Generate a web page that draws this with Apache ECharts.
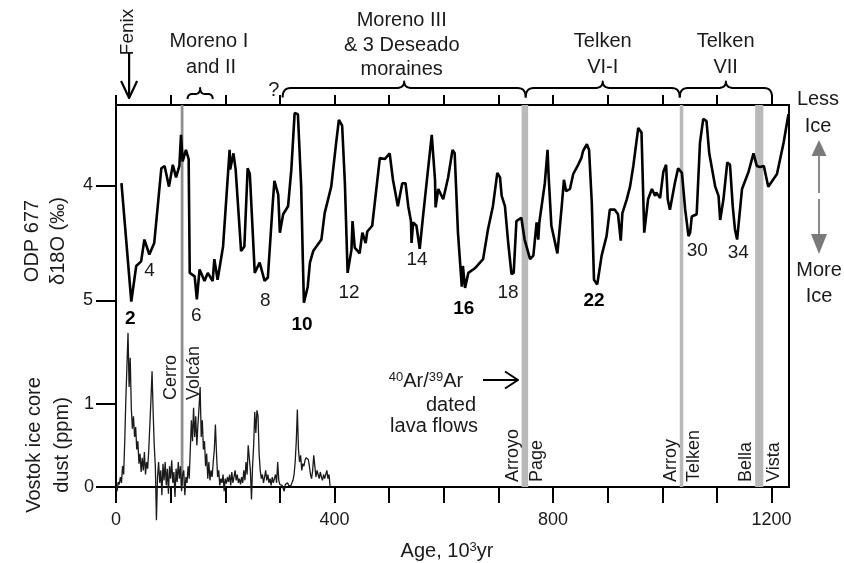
<!DOCTYPE html>
<html><head><meta charset="utf-8">
<script src="https://cdn.jsdelivr.net/npm/echarts@6/dist/echarts.min.js"></script>
<style>html,body{margin:0;padding:0;background:#fff}#c{width:844px;height:563px}</style>
</head><body><div id="c"></div>
<script>
const FONT = '"Liberation Sans", Arial, Helvetica, sans-serif';
const INK = '#1a1a1a';

// ---- ODP 677 δ18O (ka, ‰) ----
const o18Age = [10,28,37,46,52,61,70,83,89,97,104,110,116,119,122,128,133,135,144,148,153,162,168,177,180,186,196,208,209,215,219,229,235,241,245,254,263,272,278,287,290,297,300,306,315,321,327,333,339,342,344,351,355,361,376,382,394,403,408,414,419,424,431,433,437,446,451,457,460,469,483,492,501,507,516,524,530,535,540,541,544,550,556,562,578,584,585,590,599,608,616,620,626,633,635,639,645,657,672,681,690,698,703,706,712,718,724,728,733,742,748,758,764,770,773,775,785,790,792,797,808,816,820,824,831,837,846,852,855,862,866,871,875,881,889,898,904,913,919,924,927,935,941,947,956,962,967,969,974,981,987,989,996,1002,1007,1010,1014,1023,1029,1036,1042,1048,1051,1054,1063,1069,1075,1081,1086,1097,1103,1106,1112,1119,1124,1129,1133,1137,1146,1158,1167,1173,1179,1186,1194,1210,1222,1231];
const o18Val = [3.98,5.01,4.70,4.66,4.47,4.60,4.50,3.85,3.83,4.01,3.82,3.93,3.83,3.56,3.79,3.69,3.77,4.76,4.79,4.99,4.73,4.83,4.76,4.83,4.64,4.82,4.53,3.69,3.86,3.72,3.86,4.57,4.53,3.85,3.90,4.76,4.67,4.83,4.80,4.15,3.96,4.08,4.41,4.25,4.18,3.86,3.37,3.38,4.01,4.64,5.02,4.88,4.67,4.57,4.47,4.24,4.01,3.63,3.43,3.48,3.98,4.76,4.56,4.31,4.54,4.59,4.41,4.50,4.40,4.35,3.76,3.77,3.72,3.95,4.18,3.98,3.98,4.18,4.31,4.50,4.32,4.35,4.55,4.27,3.56,3.95,4.19,4.03,4.12,3.93,3.69,3.72,4.41,4.88,4.70,4.89,4.76,4.72,4.64,4.38,4.18,3.89,3.93,4.09,4.18,4.50,4.77,4.76,4.31,4.28,4.47,4.64,4.61,4.32,4.47,4.32,3.98,3.69,3.92,4.35,4.59,4.18,3.95,4.05,4.03,3.90,3.82,3.76,3.70,3.64,3.69,4.15,4.82,4.86,4.61,4.44,4.21,4.21,4.25,4.48,4.24,4.12,4.01,3.83,3.50,3.54,4.41,4.40,4.12,4.03,4.09,4.06,4.11,3.88,3.82,4.12,4.21,3.98,3.85,3.89,4.21,4.44,4.41,4.27,4.25,3.63,3.42,3.44,3.72,4.01,4.09,4.30,4.12,3.80,3.82,4.18,4.38,4.47,4.03,3.88,3.72,3.83,3.84,3.83,4.01,3.90,3.63,3.38];

// ---- Vostok dust (ppm), sampled every dustStep ka from 0 ----
const dustStep = 2;
const dustPpm = [
0.02,-0.05,0.06,0.03,0.12,0.05,0.25,0.15,0.55,1.05,
1.45,1.85,1.2,1.55,0.95,0.7,0.85,0.6,0.72,0.45,
0.55,0.28,0.4,0.18,0.35,0.2,0.42,0.15,0.3,0.22,
0.45,0.75,1.05,1.39,0.9,0.5,0.25,-0.4,0.12,0.3,
0.05,0.2,-0.1,0.28,0.08,0.3,0.02,0.22,-0.08,0.25,
0.1,0.32,0.05,0.18,-0.12,0.22,0.06,0.3,0.1,0.25,
-0.05,0.15,0.2,-0.1,0.12,0.05,0.25,0.1,0.45,0.8,
0.55,0.95,0.6,0.85,0.5,0.75,0.95,1.2,0.6,0.8,
0.45,0.55,0.25,0.4,0.1,0.3,0.08,0.2,0.12,0.3,
0.45,0.75,0.4,0.12,0.2,0.02,0.1,0.05,0.15,-0.05,
0.1,0.04,0.12,0.06,0.15,0.02,0.18,0.05,0.12,0.2,
0.08,0.15,0.05,0.1,0.03,0.12,0.05,0.2,0.08,0.3,
0.15,0.5,0.35,0.2,-0.15,0.25,0.5,0.9,0.65,0.92,
0.85,0.4,0.2,0.1,0.15,0.05,0.12,0.2,0.08,0.15,
0.05,0.1,0.02,0.12,0.05,0.1,0.15,0.05,0.3,0.08,
0.03,0.05,0.02,0.04,-0.05,0.03,0.02,0.05,0.02,0.04,
0.01,0.05,0.08,0.15,0.3,0.55,0.93,0.45,0.3,0.38,
0.2,0.28,0.25,0.32,0.35,0.36,0.33,0.25,0.15,0.1,
0.2,0.38,0.25,0.12,0.2,0.15,0.1,0.18,0.12,0.08,
0.15,0.1,0.12,0.2,0.1,0.15,0.0];

// ---- axes ----
const xMax = 1232;
const xTicks = [0,100,200,300,400,500,600,700,800,900,1000,1100,1200];
const xLabels = [0,400,800,1200];
const o18Ticks = [4,5];
const dustTicks = [0,1];

// ---- dated lava flows (ka) ----
const lavaFrom = [118.5, 742.5, 1032, 1170];
const lavaTo   = [123.5, 754.5, 1038.5, 1185];
const lavaShade = ['#8e8e8e','#b9b9b9','#b9b9b9','#b9b9b9'];
const lavaText = ['Cerro','Volcán','Arroyo','Page','Arroy','Telken','Bella','Vista'];
const lavaTextAge = [100, 142, 726.5, 771, 1016, 1058, 1152.5, 1204.5];
const lavaTextBase = [400, 400, 482, 482, 482, 482, 482, 482];

// ---- marine isotope stages ----
const misText = ['2','4','6','8','10','12','14','16','18','22','30','34'];
const misAge  = [26.2,61.4,147,273.4,340.4,426.5,551,636.7,717.8,875,1064,1139];
const misVal  = [5.155,4.74,5.13,5.0,5.207,4.937,4.642,5.068,4.932,5.004,4.567,4.581];
const misBold = [true,false,false,false,true,false,false,true,false,true,false,false];

// ---- moraine braces (ka) ----
const braceFrom = [131, 305, 750, 1032];
const braceTo   = [177, 750, 1032, 1201];

const chart = echarts.init(document.getElementById('c'));
const axisLineStyle = {color:'#000', width:2};
chart.setOption({
  animation:false,
  grid:{left:116,right:55,top:105,bottom:76,show:true,borderColor:'#000',borderWidth:2,backgroundColor:'transparent'},
  xAxis:[
    {type:'value',min:0,max:xMax,position:'bottom',
     axisLine:{onZero:false,lineStyle:axisLineStyle},
     axisTick:{customValues:xTicks,length:16,lineStyle:axisLineStyle},
     axisLabel:{customValues:xLabels,margin:24,fontSize:18,color:INK,fontFamily:FONT,formatter:v=>String(v)},
     splitLine:{show:false}},
    {type:'value',min:0,max:xMax,position:'top',
     axisLine:{onZero:false,lineStyle:axisLineStyle},
     axisTick:{customValues:xTicks,length:10,lineStyle:axisLineStyle},
     axisLabel:{show:false},splitLine:{show:false}}
  ],
  yAxis:[
    {type:'value',inverse:true,min:3.3,max:3.3+382/115,position:'left',
     axisLine:{onZero:false,lineStyle:axisLineStyle},
     axisTick:{customValues:o18Ticks,length:20,lineStyle:axisLineStyle},
     axisLabel:{customValues:o18Ticks,margin:23,fontSize:18,color:INK,fontFamily:FONT},
     splitLine:{show:false}},
    {type:'value',min:0,max:382/83.3,position:'left',
     axisLine:{onZero:false,lineStyle:axisLineStyle},
     axisTick:{customValues:dustTicks,length:20,lineStyle:axisLineStyle},
     axisLabel:{customValues:dustTicks,margin:22,fontSize:18,color:INK,fontFamily:FONT},
     splitLine:{show:false}}
  ],
  series:[
    {type:'custom',xAxisIndex:0,yAxisIndex:1,silent:true,z:1,
     data: lavaFrom.map((f,i)=>[f,lavaTo[i],i]),
     encode:{x:[0,1]},
     renderItem:function(params,api){
       const x1 = api.coord([api.value(0),0])[0];
       const x2 = api.coord([api.value(1),0])[0];
       const cs = params.coordSys;
       return {type:'rect',shape:{x:x1,y:cs.y,width:x2-x1,height:cs.height},
               style:{fill:lavaShade[api.value(2)]}};
     }},
    {type:'line',xAxisIndex:0,yAxisIndex:1,silent:true,z:3,clip:false,
     symbol:'none',lineStyle:{color:'#1a1a1a',width:1.3},
     data: dustPpm.map((v,i)=>[i*dustStep,v])},
    {type:'line',xAxisIndex:0,yAxisIndex:0,silent:true,z:4,
     symbol:'none',lineStyle:{color:'#000',width:2.6},
     data: o18Age.map((a,i)=>[a,o18Val[i]])}
  ]
});

const px = a => chart.convertToPixel({xAxisIndex:0}, a);
const pyO = v => chart.convertToPixel({yAxisIndex:0}, v);

function T(text, x, y, o) {
  o = o || {};
  return {type:'text', x:x, y:y, rotation:o.rot||0, z:10, silent:true,
    style:{text:text, fontSize:o.size||20, fontFamily:FONT, fontWeight:o.bold?'bold':'normal',
      fill:o.fill||INK, align:o.align||'center', textAlign:o.align||'center',
      verticalAlign:'middle', textVerticalAlign:'middle', rich:o.rich}};
}
function L(pts, o) {
  o = o || {};
  return {type:'polyline', z:10, silent:true, shape:{points:pts},
    style:{stroke:o.stroke||'#000', lineWidth:o.w||2, fill:null, lineJoin:'round'}};
}
function P(pts, fill) {
  return {type:'polygon', z:10, silent:true, shape:{points:pts}, style:{fill:fill, stroke:null}};
}
function quad(p0, c, p1, n) {
  const out = [];
  for (let k = 0; k <= n; k++) {
    const t = k / n, u = 1 - t;
    out.push([u*u*p0[0] + 2*u*t*c[0] + t*t*p1[0], u*u*p0[1] + 2*u*t*c[1] + t*t*p1[1]]);
  }
  return out;
}
function brace(x1, x2, yH, yEnd, yPeak, r) {
  const xm = (x1 + x2) / 2;
  let pts = [];
  pts = pts.concat(quad([x1,yEnd],[x1,yH],[x1+r,yH],8));
  pts = pts.concat(quad([xm-r,yH],[xm,yH],[xm,yPeak],8));
  pts = pts.concat(quad([xm,yPeak],[xm,yH],[xm+r,yH],8));
  pts = pts.concat(quad([x2-r,yH],[x2,yH],[x2,yEnd],8));
  return L(pts, {w:2});
}

const g = [];
// braces
g.push(brace(px(braceFrom[0]), px(braceTo[0]), 94, 99, 88, 5));
for (let i = 1; i < braceFrom.length; i++) g.push(brace(px(braceFrom[i]), px(braceTo[i]), 88, 97.5, 81.5, 8));

// top annotations
g.push(T('Fenix', px(22), 32, {rot:Math.PI/2, size:19}));
g.push(L([[px(24),53],[px(24),97]], {w:2.2}));
g.push(L([[px(24)-8,81],[px(24),98],[px(24)+8,81]], {w:2.2}));
g.push(T('Moreno I', px(170), 41));
g.push(T('and II', px(174), 67));
g.push(T('?', px(289), 90));
g.push(T('Moreno III', px(523), 20));
g.push(T('& 3 Deseado', px(523), 45));
g.push(T('moraines', px(523), 69));
g.push(T('Telken', px(891), 41));
g.push(T('VI-I', px(891), 67));
g.push(T('Telken', px(1116), 41));
g.push(T('VII', px(1116), 67));

// right-side labels
g.push(T('Less', 818, 99));
g.push(T('Ice', 818, 126));
g.push(T('More', 819, 270));
g.push(T('Ice', 819, 296));
g.push(P([[819,140],[811.5,156],[826.5,156]], '#7a7a7a'));
g.push(L([[819,155],[819,193]], {stroke:'#8a8a8a', w:2}));
g.push(L([[819,199],[819,236]], {stroke:'#8a8a8a', w:2}));
g.push(P([[811,234],[827,234],[819,254]], '#7a7a7a'));

// MIS labels
for (let i = 0; i < misText.length; i++) {
  g.push(T(misText[i], px(misAge[i]), pyO(misVal[i]), {size:19, bold:misBold[i], fill: misBold[i] ? '#000' : INK}));
}

// lava flow labels
for (let i = 0; i < lavaText.length; i++) {
  g.push(T(lavaText[i], px(lavaTextAge[i]), lavaTextBase[i], {rot:Math.PI/2, size:18, align:'left'}));
}
g.push(T('{s|40}{a|Ar/}{s|39}{a|Ar}', 426, 381, {rich:{
  a:{fontSize:20, fontFamily:FONT, fill:INK, color:INK},
  s:{fontSize:13, fontFamily:FONT, fill:INK, color:INK, verticalAlign:'top', padding:[0,0,8,0]}}}));
g.push(T('dated', 451, 405));
g.push(T('lava flows', 434, 426));
g.push(L([[483,380],[517,380]], {w:2}));
g.push(L([[505,371.5],[518,380],[505,388.5]], {w:2}));

// axis titles
g.push(T('ODP 677', 32, 241, {rot:Math.PI/2}));
g.push(T('δ18O (‰)', 58, 241, {rot:Math.PI/2}));
g.push(T('Vostok ice core', 34, 445, {rot:Math.PI/2}));
g.push(T('dust (ppm)', 62, 445, {rot:Math.PI/2}));
g.push(T('{a|Age, 10}{s|3}{a|yr}', 447, 551, {rich:{
  a:{fontSize:20, fontFamily:FONT, fill:INK, color:INK},
  s:{fontSize:13, fontFamily:FONT, fill:INK, color:INK, verticalAlign:'top', padding:[0,0,8,0]}}}));

chart.setOption({graphic:{elements:g}});
</script>
</body></html>
